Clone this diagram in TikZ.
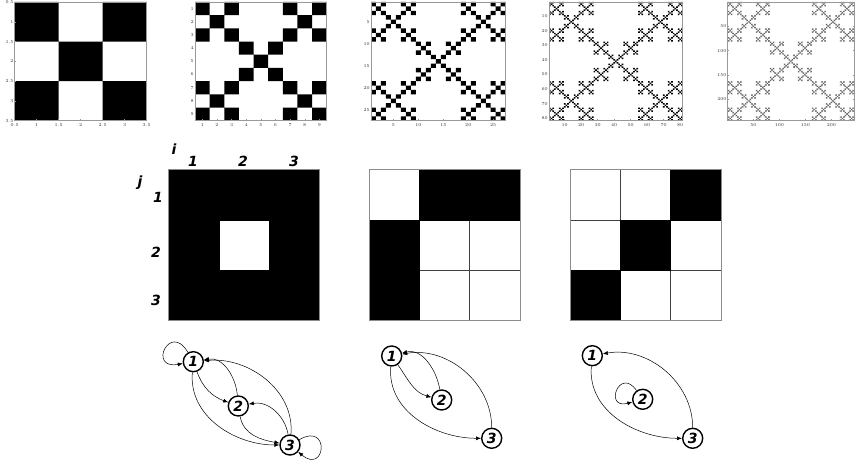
\documentclass[tikz,border=0pt]{standalone}
\usepackage{fontspec}
\setsansfont{DejaVu Sans}
\usetikzlibrary{arrows.meta}

\def\vpat{0/0,0/2,1/1,2/0,2/2}

% frame, ticks and tick labels of one image plot
\newcommand\plotaxes[5]{%
  \draw[axisframe] (#2,341.3) rectangle (#3,460);
  \foreach \t [count=\k] in {#5}{%
    \pgfmathsetmacro\tx{#2+(\t-0.5)/#4*(#3-#2)}%
    \pgfmathsetmacro\ty{460-(\t-0.5)/#4*118.7}%
    \draw[axisframe] (\tx,341.3) -- ++(0,1.2) (\tx,460) -- ++(0,-1.2)
      (#2,\ty) -- ++(1.2,0) (#3,\ty) -- ++(-1.2,0);
    \node[tick,anchor=north] (#1x\k) at (\tx,339.8) {\t};
    \node[tick,anchor=east] (#1y\k) at (#2,\ty) {\t};
  }}

% 3x3 matrix, black cells given as col/row
\newcommand\adjmat[2]{%
  \foreach \r in {1,2,3}{\foreach \c in {1,2,3}{%
    \draw[whitecell] ({#1+(\c-1)*50.33},{292.5-\r*50.33}) rectangle ++(50.33,50.33);}}%
  \foreach \c/\r in {#2}{%
    \path[blackcell] ({#1+(\c-1)*50.33},{292.5-\r*50.33}) rectangle ++(50.33,50.33);}%
  \draw[matframe] (#1,141.5) rectangle ++(151,151);}

\begin{document}
\begin{tikzpicture}[x=1pt,y=1pt,
  vertex/.style={circle,draw,line width=1.4pt,fill=white,minimum size=20pt,inner sep=0pt,font=\fontsize{14}{14}\sffamily\bfseries\itshape},
  arc/.style={-{Latex[length=5pt,width=4pt]},line width=0.5pt},
  idx/.style={font=\fontsize{14}{14}\sffamily\bfseries\itshape,inner sep=0pt},
  tick/.style={font=\fontsize{4.5}{4.5}\selectfont,inner sep=1pt,text=black!80},
  axisframe/.style={draw=black!40,line width=0.5pt},
  whitecell/.style={fill=white,draw=black!75,line width=0.6pt},
  blackcell/.style={fill=black,draw=black,line width=0.6pt},
  matframe/.style={draw=black!45,line width=0.8pt}]
\useasboundingbox (0,0) rectangle (855,462);

% fractal iterations
\begin{scope}[shift={(14.7,341.3)},x=44pt,y=39.567pt]
  \fill foreach \a/\b in \vpat {(\a,\b) rectangle ++(1,1)};
\end{scope}
\begin{scope}[shift={(195,341.3)},x=14.633pt,y=13.189pt]
  \fill foreach \a/\b in \vpat {foreach \c/\d in \vpat {(3*\a+\c,3*\b+\d) rectangle ++(1,1)}};
\end{scope}
\begin{scope}[shift={(371,341.3)},x=4.989pt,y=4.396pt]
  \fill foreach \a/\b in \vpat {foreach \c/\d in \vpat {foreach \e/\f in \vpat {(9*\a+3*\c+\e,9*\b+3*\d+\f) rectangle ++(1,1)}}};
\end{scope}
\begin{scope}[shift={(549,341.3)},x=1.6506pt,y=1.4654pt]
  \fill foreach \a/\b in \vpat {foreach \c/\d in \vpat {foreach \e/\f in \vpat {foreach \g/\h in \vpat {(27*\a+9*\c+3*\e+\g,27*\b+9*\d+3*\f+\h) rectangle ++(1,1)}}}};
\end{scope}
\begin{scope}[shift={(727.7,341.3)},x=0.51975pt,y=0.48848pt]
  \fill[black!75] foreach \a/\b in \vpat {foreach \c/\d in \vpat {foreach \e/\f in \vpat {foreach \g/\h in \vpat {foreach \p/\q in \vpat {(81*\a+27*\c+9*\e+3*\g+\p,81*\b+27*\d+9*\f+3*\h+\q) rectangle ++(1,1)}}}}};
\end{scope}
\plotaxes{pa}{14.7}{146.7}{3}{0.5,1,1.5,2,2.5,3,3.5}
\plotaxes{pb}{195}{326.7}{9}{1,2,3,4,5,6,7,8,9}
\plotaxes{pc}{371}{505.7}{27}{5,10,15,20,25}
\plotaxes{pd}{549}{682.7}{81}{10,20,30,40,50,60,70,80}
\plotaxes{pe}{727.7}{854}{243}{50,100,150,200}

% matrices
\adjmat{168.5}{1/1,2/1,3/1,1/2,3/2,1/3,2/3,3/3}
\adjmat{369}{2/1,3/1,1/2,1/3}
\adjmat{570}{3/1,2/2,1/3}
\node[idx] (ilab) at (174,313) {i};
\node[idx] (jlab) at (140,279) {j};
\node[idx] (i1) at (193,301) {1};
\node[idx] (i2) at (243,301) {2};
\node[idx] (i3) at (294,301) {3};
\node[idx] (j1) at (158,265) {1};
\node[idx] (j2) at (156,210) {2};
\node[idx] (j3) at (156,162) {3};

% graphs
\node[vertex] (a1) at (193.3,100.3) {1};
\node[vertex] (a2) at (238.3,56) {2};
\node[vertex] (a3) at (290,17) {3};
\draw[arc] (a1) to[out=120,in=190,distance=36] (a1);
\draw[arc] (a1) to[out=-70,in=160] (a2);
\draw[arc] (a2) to[out=95,in=10] (a1);
\draw[arc] (a2) to[out=-80,in=170] (a3);
\draw[arc] (a3) to[out=100,in=10] (a2);
\draw[arc] (a1) to[out=-95,in=180] (a3);
\draw[arc] (a3) to[out=85,in=5] (a1);
\draw[arc] (a3) to[out=30,in=-40,distance=36] (a3);

\node[vertex] (b1) at (391.7,106) {1};
\node[vertex] (b2) at (441.7,62) {2};
\node[vertex] (b3) at (491.7,23.7) {3};
\draw[arc] (b1) to[out=-55,in=165] (b2);
\draw[arc] (b2) to[out=100,in=15] (b1);
\draw[arc] (b1) to[out=-95,in=180] (b3);
\draw[arc] (b3) to[out=90,in=10] (b1);

\node[vertex] (c1) at (592.3,106.3) {1};
\node[vertex] (c2) at (642.7,62.7) {2};
\node[vertex] (c3) at (692.7,23.7) {3};
\draw[arc] (c1) to[out=-95,in=180] (c3);
\draw[arc] (c3) to[out=90,in=10] (c1);
\draw[arc] (c2) to[out=125,in=195,distance=30] (c2);
\end{tikzpicture}
\end{document}
